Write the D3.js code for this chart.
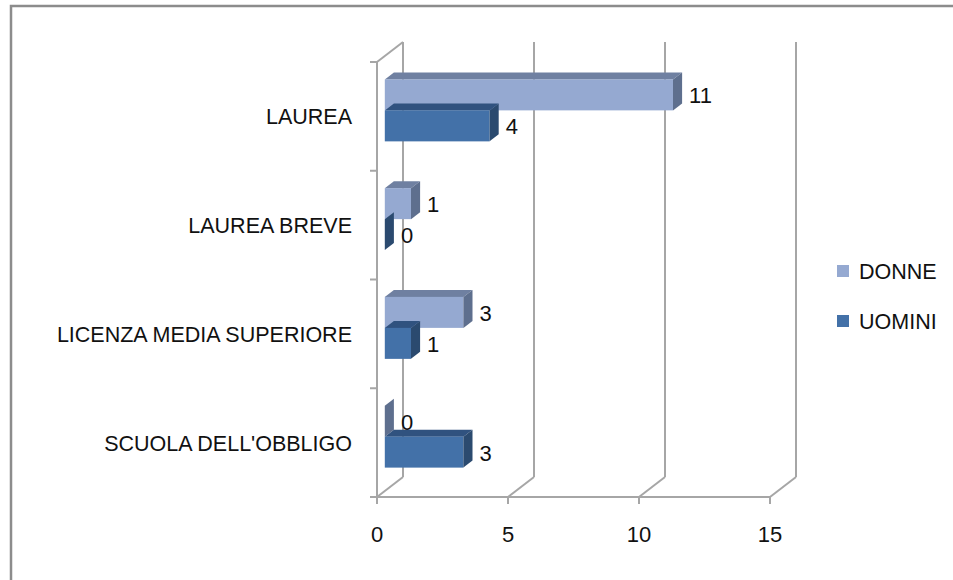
<!DOCTYPE html>
<html>
<head>
<meta charset="utf-8">
<script src="https://cdn.jsdelivr.net/npm/d3@7"></script>
<style>
  body { margin: 0; background: #fff; }
  text { font-family: "Liberation Sans", Arial, sans-serif; fill: #111; }
</style>
</head>
<body>
<div id="chart"></div>
<script>
// data
const categories = ["LAUREA", "LAUREA BREVE", "LICENZA MEDIA SUPERIORE", "SCUOLA DELL'OBBLIGO"];
const seriesNames = ["DONNE", "UOMINI"];
const donne = [11, 1, 3, 0];
const uomini = [4, 0, 1, 3];
const xTicks = [0, 5, 10, 15];

const width = 953, height = 580;

const svg = d3.select("#chart")
	.append("svg")
	.attr("width", width)
	.attr("height", height);

// outer frame
svg.append("rect")
	.attr("x", 11).attr("y", 6)
	.attr("width", 980).attr("height", 620)
	.attr("fill", "#fff")
	.attr("stroke", "#8c8c8c")
	.attr("stroke-width", 2.5);

// front plane scales
const x = d3.scaleLinear().domain([0, 15]).range([377, 770]);
const y0 = d3.scaleBand()
	.domain(categories)
	.range([62, 497])
	.paddingInner(0.43)
	.paddingOuter(0.215);
const y1 = d3.scaleBand().domain(seriesNames).range([0, y0.bandwidth()]);

// depth of the 3d box
const depthX = 26, depthY = -20;
const f0 = 0.3, f1 = 0.65; // bar depth start / end
const plotTop = 62, plotBottom = 497;

const colors = {
	DONNE: { front: "#95a9d1", top: "#6f80a1", side: "#5e6f8e" },
	UOMINI: { front: "#4371a8", top: "#30527f", side: "#2b4a6f" }
};

const grid = svg.append("g")
	.attr("stroke", "#a6a6a6")
	.attr("stroke-width", 2)
	.attr("fill", "none");

// back wall verticals + floor diagonals
xTicks.forEach(function (t) {
	grid.append("line")
		.attr("x1", x(t) + depthX).attr("y1", plotTop + depthY)
		.attr("x2", x(t) + depthX).attr("y2", plotBottom + depthY);
	grid.append("line")
		.attr("x1", x(t) + depthX).attr("y1", plotBottom + depthY)
		.attr("x2", x(t)).attr("y2", plotBottom);
	// tick mark
	grid.append("line")
		.attr("x1", x(t)).attr("y1", plotBottom)
		.attr("x2", x(t)).attr("y2", plotBottom + 7);
});
// front floor edge
grid.append("line")
	.attr("x1", x(0)).attr("y1", plotBottom)
	.attr("x2", x(15)).attr("y2", plotBottom);
// left wall
grid.append("line")
	.attr("x1", x(0)).attr("y1", plotTop)
	.attr("x2", x(0)).attr("y2", plotBottom);
grid.append("line")
	.attr("x1", x(0)).attr("y1", plotTop)
	.attr("x2", x(0) + depthX).attr("y2", plotTop + depthY);
// category ticks
const catTicks = d3.range(categories.length + 1).map(i => plotTop + i * y0.step());
catTicks.forEach(function (t) {
	grid.append("line")
		.attr("x1", x(0) - 7).attr("y1", t)
		.attr("x2", x(0)).attr("y2", t);
});

// bars
const ox = depthX * f0, oy = depthY * f0;
const dx = depthX * (f1 - f0), dy = depthY * (f1 - f0);

const rows = [];
categories.forEach(function (c, i) {
	rows.push({ cat: c, s: "UOMINI", v: uomini[i] });
	rows.push({ cat: c, s: "DONNE", v: donne[i] });
});
rows.reverse(); // draw bottom categories first

const bars = svg.append("g");
rows.forEach(function (d) {
	const yT = y0(d.cat) + y1(d.s) + oy;
	const yB = yT + y1.bandwidth();
	const xa = x(0) + ox;
	const xb = x(d.v) + ox;
	const col = colors[d.s];
	const g = bars.append("g");
	if (d.v > 0) {
		g.append("polygon")
			.attr("points", [[xa, yT], [xb, yT], [xb + dx, yT + dy], [xa + dx, yT + dy]].join(" "))
			.attr("fill", col.top);
		g.append("rect")
			.attr("x", xa).attr("y", yT)
			.attr("width", xb - xa).attr("height", yB - yT)
			.attr("fill", col.front);
	}
	g.append("polygon")
		.attr("points", [[xb, yT], [xb + dx, yT + dy], [xb + dx, yB + dy], [xb, yB]].join(" "))
		.attr("fill", col.side);
	// value label
	svg.append("text")
		.attr("x", xb + dx + 7)
		.attr("y", (yT + yB) / 2 + 1)
		.attr("dominant-baseline", "central")
		.style("font-size", "22px")
		.text(d.v);
});

// category labels
svg.append("g")
	.selectAll("text")
	.data(categories)
	.join("text")
	.attr("x", 352)
	.attr("y", d => y0(d) + y0.bandwidth() / 2 + 1)
	.attr("text-anchor", "end")
	.attr("dominant-baseline", "central")
	.style("font-size", "21.5px")
	.text(d => d);

// x tick labels
svg.append("g")
	.selectAll("text")
	.data(xTicks)
	.join("text")
	.attr("x", d => x(d))
	.attr("y", 534)
	.attr("text-anchor", "middle")
	.attr("dominant-baseline", "central")
	.style("font-size", "22px")
	.text(d => d);

// legend
const legend = svg.append("g");
seriesNames.forEach(function (s, i) {
	const ly = 271 + i * 50;
	legend.append("rect")
		.attr("x", 837).attr("y", ly - 6)
		.attr("width", 12).attr("height", 12)
		.attr("fill", colors[s].front);
	legend.append("text")
		.attr("x", 859).attr("y", ly + 1)
		.attr("dominant-baseline", "central")
		.style("font-size", "21.5px")
		.text(s);
});
</script>
</body>
</html>
